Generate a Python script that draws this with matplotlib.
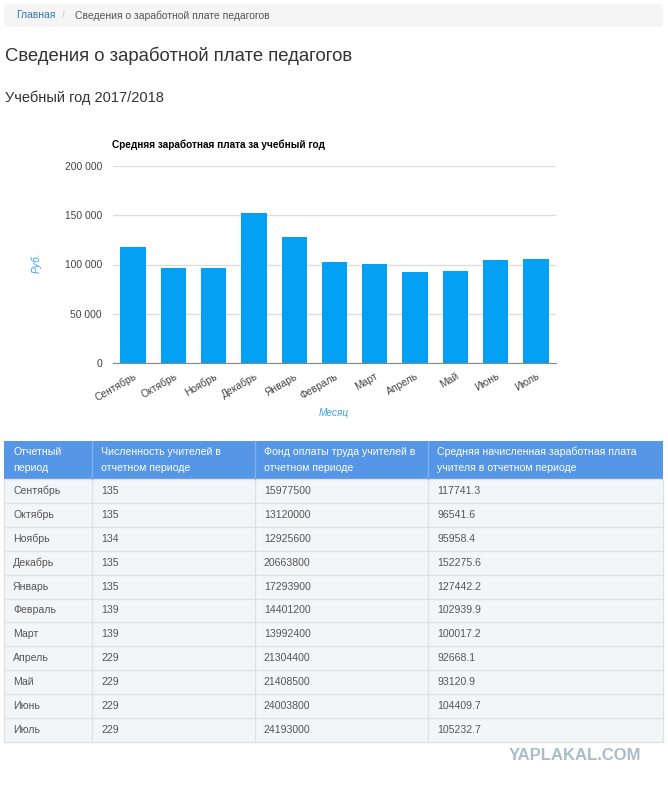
import matplotlib.pyplot as plt
from matplotlib.patches import Rectangle, FancyBboxPatch
from matplotlib.ticker import FuncFormatter

plt.rcParams['font.family'] = ['Liberation Sans', 'DejaVu Sans']

# Данные
months = ['Сентябрь', 'Октябрь', 'Ноябрь', 'Декабрь', 'Январь', 'Февраль',
          'Март', 'Апрель', 'Май', 'Июнь', 'Июль']
teachers = [135, 135, 134, 135, 135, 139, 139, 229, 229, 229, 229]
fund = [15977500, 13120000, 12925600, 20663800, 17293900, 14401200,
        13992400, 21304400, 21408500, 24003800, 24193000]
avg_salary = [117741.3, 96541.6, 95958.4, 152275.6, 127442.2, 102939.9,
              100017.2, 92668.1, 93120.9, 104409.7, 105232.7]
headers = ['Отчетный\nпериод',
           'Численность учителей в\nотчетном периоде',
           'Фонд оплаты труда учителей в\nотчетном периоде',
           'Средняя начисленная заработная плата\nучителя в отчетном периоде']
y_ticks = [0, 50000, 100000, 150000, 200000]

W, H = 668, 786
fig = plt.figure(figsize=(W / 100, H / 100), dpi=100)

# страница (координаты в пикселях)
page = fig.add_axes([0, 0, 1, 1])
page.set_xlim(0, W)
page.set_ylim(H, 0)
page.axis('off')

# хлебные крошки
page.add_patch(FancyBboxPatch((4, 4), 659, 23, boxstyle='round,pad=0,rounding_size=4',
                              fc='#f5f5f5', ec='none'))
page.text(16, 15.5, 'Главная', color='#337ab7', fontsize=7.5, va='center')
page.text(62, 15.5, '/', color='#cccccc', fontsize=7.5, va='center')
page.text(75, 15.5, 'Сведения о заработной плате педагогов', color='#555555',
          fontsize=7.5, va='center')

page.text(5, 56, 'Сведения о заработной плате педагогов', color='#333333',
          fontsize=13.3, va='center')
page.text(5, 98, 'Учебный год 2017/2018', color='#333333', fontsize=10.5, va='center')

# таблица
col_x = [4, 92, 255, 428, 663]
head_top, head_bot = 441, 479
row_h = 23.9
page.add_patch(Rectangle((col_x[0], head_top), col_x[-1] - col_x[0], head_bot - head_top,
                         fc='#5596e6', ec='none'))
for i, h in enumerate(headers):
    page.text(col_x[i] + 9, (head_top + head_bot) / 2, h, color='white', fontsize=7.6,
              va='center', linespacing=1.75)

n = len(months)
tab_bot = head_bot + n * row_h
page.add_patch(Rectangle((col_x[0], head_bot), col_x[-1] - col_x[0], tab_bot - head_bot,
                         fc='#f3f6f9', ec='#dde2e7', lw=1))
for r in range(n):
    yc = head_bot + (r + 0.5) * row_h
    if r > 0:
        page.plot([col_x[0], col_x[-1]], [head_bot + r * row_h] * 2, color='#dde2e7', lw=1)
    vals = [months[r], str(teachers[r]), str(fund[r]), f'{avg_salary[r]:.1f}']
    for c, v in enumerate(vals):
        page.text(col_x[c] + 9, yc, v, color='#555555', fontsize=7.6, va='center')
for x in col_x[1:-1]:
    page.plot([x, x], [head_bot, tab_bot], color='#dde2e7', lw=1)
for x in col_x[1:-1]:
    page.plot([x, x], [head_top, head_bot], color='#7fb0ec', lw=1)

page.text(641, 756, 'YAPLAKAL.COM', color='#a9bccb', fontsize=12, fontweight='bold',
          ha='right', va='center')

# график
left, right = 113 / W, 556 / W
bottom, top = 1 - 363 / H, 1 - 166 / H
ax = fig.add_axes([left, bottom, right - left, top - bottom])
ax.patch.set_alpha(0)
x = range(n)
ax.bar(x, avg_salary, width=0.63, color='#03a0f4', zorder=3)
ax.set_xlim(-0.5, n - 0.5)
ax.set_ylim(0, 200000)
ax.set_yticks(y_ticks)
ax.yaxis.set_major_formatter(FuncFormatter(lambda v, p: f'{int(v):,}'.replace(',', ' ')))
ax.grid(axis='y', color='#dddddd', lw=1, zorder=0)
for s in ['top', 'right', 'left']:
    ax.spines[s].set_visible(False)
ax.spines['bottom'].set_color('#888888')
ax.spines['bottom'].set_zorder(4)
ax.tick_params(length=0, labelsize=7.4, colors='#444444', pad=8)
ax.set_xticks(list(x))
ax.set_xticklabels(months, rotation=30, ha='right', rotation_mode='anchor')
ax.tick_params(axis='x', pad=6)

page.text(112, 145, 'Средняя заработная плата за учебный год', fontsize=7.2,
          fontweight='bold', color='#000000', va='center')
page.text(36, 263, 'Руб.', color='#3aa3e3', fontsize=7.3, style='italic', rotation=90,
          ha='center', va='center')
page.text(334, 413, 'Месяц', color='#3aa3e3', fontsize=7.3, style='italic',
          ha='center', va='center')

fig.savefig('out.png', dpi=100)
